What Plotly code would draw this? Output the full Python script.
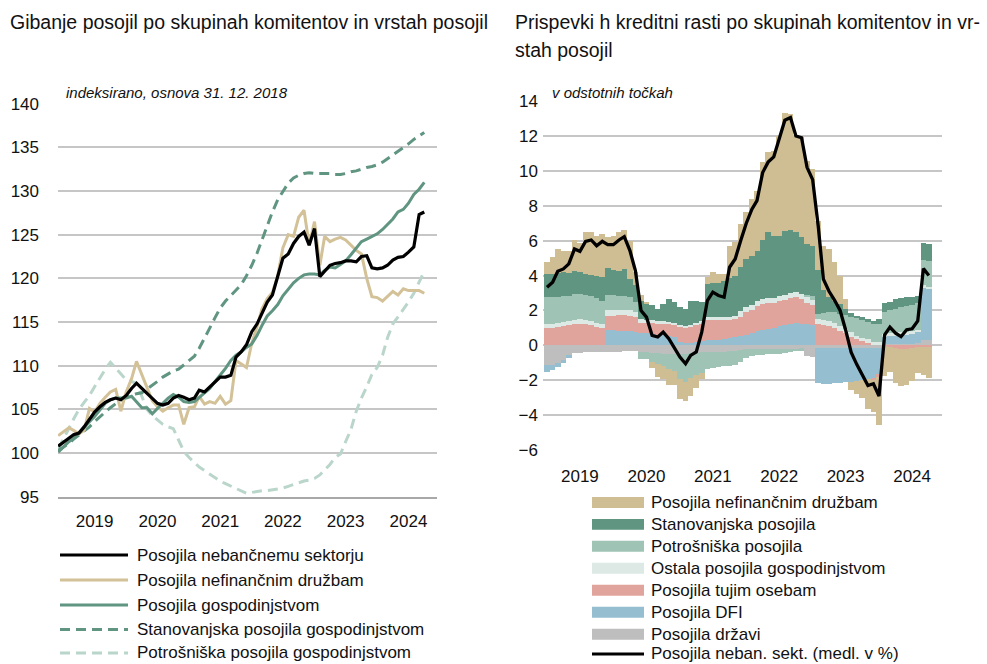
import pandas as pd
import plotly.graph_objects as go

# ---------------- data: left chart (index, 31.12.2018 = 100) ----------------
months_left = pd.date_range("2018-12-01", "2024-10-01", freq="MS")

nebancni = [100.8, 101.3, 101.7, 102.1, 102.3, 103.0, 103.8, 104.7, 105.3, 105.8, 106.1, 106.3,
            106.1, 106.6, 107.4, 108.0, 107.4, 106.8, 106.2, 105.7, 105.5, 105.7, 106.3, 106.6,
            106.4, 106.1, 106.3, 107.2, 107.0, 107.6, 108.2, 108.7, 108.7, 108.9, 111.0, 111.6,
            112.4, 113.9, 114.8, 116.0, 117.3, 118.1, 120.3, 122.3, 122.8, 124.0, 124.8, 125.3,
            123.8, 125.7, 120.2, 120.8, 121.5, 121.7, 121.8, 122.0, 122.0, 121.9, 122.5, 122.6,
            121.2, 121.1, 121.2, 121.5, 122.1, 122.4, 122.5, 123.0, 123.6, 127.3, 127.6]

nefin = [102.0, 102.5, 102.9, 102.6, 102.2, 102.6, 105.1, 104.7, 105.7, 106.4, 107.0, 107.3,
         104.8, 107.0, 108.5, 110.5, 109.0, 107.5, 106.0, 105.3, 104.8, 105.2, 105.5, 105.5,
         103.3, 105.2, 105.3, 106.5, 105.6, 105.9, 105.7, 106.5, 105.6, 106.0, 110.6, 110.2,
         109.8, 112.6, 114.5, 116.5, 117.7, 118.4, 120.3, 123.5, 125.0, 124.8, 127.0, 127.8,
         123.8, 126.5, 121.5, 124.8, 124.2, 124.5, 124.7, 124.4, 123.8, 123.2, 122.8, 120.0,
         117.9, 117.8, 117.4, 117.9, 118.5, 118.1, 118.8, 118.6, 118.6, 118.6, 118.3]

gospod = [100.1, 100.7, 101.3, 101.7, 102.3, 103.0, 103.6, 104.2, 104.9, 105.7, 106.1, 106.3,
          106.3, 106.3, 106.5, 105.9, 105.2, 105.2, 104.5, 105.1, 105.7, 106.3, 106.7, 106.4,
          105.9, 105.8, 105.9, 106.4, 106.9, 107.4, 108.2, 108.9, 109.7, 110.6, 111.2, 111.6,
          112.1, 112.5, 113.5, 114.6, 115.7, 116.3, 117.0, 118.0, 118.8, 119.5, 120.0, 120.4,
          120.5, 120.5, 120.4, 120.9, 121.3, 121.2, 121.6, 122.0, 122.7, 123.5, 124.2, 124.5,
          124.8, 125.1, 125.6, 126.2, 126.8, 127.6, 127.9, 128.6, 129.6, 130.2, 131.0]

stanov = [100.3, 100.7, 101.1, 101.6, 102.1, 102.5, 103.0, 103.6, 104.2, 104.7, 105.2, 105.7,
          106.1, 106.4, 106.6, 106.8, 106.9, 107.3, 107.7, 108.2, 108.7, 109.1, 109.4, 109.6,
          110.1, 110.6, 111.1, 112.0, 113.1, 114.3, 115.5, 116.6, 117.4, 118.0, 118.6, 119.3,
          120.3, 121.5, 122.9, 124.4, 126.0, 127.6, 129.0, 130.0, 130.9, 131.5, 131.8, 132.0,
          132.1, 132.0, 132.0, 132.0, 132.0, 131.9, 131.9, 132.0, 132.2, 132.3, 132.5, 132.7,
          132.8, 133.0, 133.3, 133.7, 134.1, 134.5, 135.0, 135.4, 135.9, 136.3, 136.7]

potros = [100.5, 101.6, 102.8, 103.9, 105.0, 105.8, 106.6, 107.6, 108.6, 109.6, 110.4, 109.7,
          109.0, 108.4, 108.2, 108.0, 106.5, 105.0, 104.3, 103.8, 103.3, 103.0, 102.8, 101.5,
          100.2, 99.5, 98.9, 98.4, 98.0, 97.6, 97.2, 96.8, 96.5, 96.2, 95.9, 95.6,
          95.4, 95.5, 95.6, 95.7, 95.7, 95.8, 95.9, 96.0, 96.2, 96.4, 96.6, 96.8,
          96.9, 97.1, 97.5, 98.1, 98.7, 99.5, 99.9, 101.3, 102.7, 104.8, 106.3, 107.6,
          109.0, 109.8, 111.2, 113.2, 114.8, 115.6, 116.4, 117.3, 118.3, 119.5, 120.8]

# ---------------- data: right chart (contributions, percentage points) ----------------
months_right = pd.date_range("2019-01-01", "2024-10-01", freq="MS")

drzava = [-1.14, -1.1, -1.0, -0.85, -0.6, -0.45, -0.42, -0.4, -0.4, -0.4, -0.4, -0.4,
          -0.38, -0.36, -0.35, -0.33, -0.33, -0.38, -0.4, -0.42, -0.45, -0.48, -0.5, -0.5,
          -0.5, -0.48, -0.45, -0.42, -0.4, -0.4, -0.38, -0.37, -0.36, -0.35, -0.35, -0.25,
          -0.2, -0.2, -0.2, -0.2, -0.2, -0.2, -0.2, -0.2, -0.2, -0.2, -0.2, -0.6,
          -0.65, -0.15, -0.15, -0.15, -0.15, -0.15, -0.15, -0.15, -0.15, -0.15, -0.15, -0.15,
          -0.15, 0.05, 0.05, 0.05, 0.05, 0.05, 0.05, 0.15, 0.28, 0.28]

dfi = [-0.38, -0.3, -0.24, -0.15, -0.1, 0.0, 0.0, 0.0, 0.0, 0.0, 0.0, 0.86,
       0.86, 0.85, 0.85, 0.8, 0.75, 0.7, 0.68, 0.65, 0.6, 0.6, 0.55, 0.5,
       0.2, 0.15, 0.15, 0.2, 0.25, 0.3, 0.3, 0.32, 0.35, 0.4, 0.5, 0.55,
       0.6, 0.7, 0.85, 0.9, 0.95, 1.0, 1.1, 1.15, 1.2, 1.3, 1.25, 1.2,
       1.15, -2.0, -2.05, -2.05, -2.0, -2.0, -1.95, -1.95, -1.9, -1.85, -1.8, -1.75,
       -1.5, 0.45, 0.5, 0.5, 0.55, 0.55, 0.6, 0.6, 3.05, 2.95]

tujci = [1.0, 1.0, 1.05, 1.1, 1.15, 1.2, 1.25, 1.2, 1.15, 1.05, 1.0, 0.85,
         0.85, 0.9, 0.9, 0.9, 0.85, 0.6, 0.6, 0.62, 0.65, 0.65, 0.65, 0.65,
         0.85, 0.85, 0.9, 0.95, 1.0, 1.15, 1.15, 1.13, 1.1, 1.05, 1.0, 1.1,
         1.3, 1.3, 1.4, 1.45, 1.45, 1.4, 1.45, 1.45, 1.5, 1.45, 1.4, 1.25,
         1.15, 1.2, 1.15, 1.1, 1.0, 0.85, 0.7, 0.5, 0.35, 0.25, 0.15, -0.1,
         -0.15, -0.05, -0.1, -0.15, -0.2, -0.2, -0.15, -0.12, -0.12, -0.1]

ostala = [0.25, 0.25, 0.25, 0.25, 0.25, 0.25, 0.25, 0.25, 0.25, 0.25, 0.25, 0.3,
          0.3, 0.3, 0.3, 0.3, 0.3, 0.2, 0.2, 0.18, 0.15, 0.15, 0.12, 0.12,
          0.12, 0.1, 0.12, 0.15, 0.15, 0.2, 0.2, 0.2, 0.2, 0.2, 0.2, 0.3,
          0.3, 0.3, 0.3, 0.3, 0.3, 0.3, 0.3, 0.3, 0.3, 0.3, 0.3, 0.3,
          0.3, 0.3, 0.3, 0.3, 0.3, 0.25, 0.25, 0.25, 0.2, 0.2, 0.2, 0.2,
          0.2, 0.15, 0.15, 0.15, 0.15, 0.15, 0.15, 0.15, 0.1, 0.1]

potrosniska = [1.5, 1.5, 1.45, 1.45, 1.45, 1.5, 1.45, 1.45, 1.4, 1.4, 1.3, 0.85,
               0.85, 0.8, 0.8, 0.75, 0.6, -0.4, -0.4, -0.55, -0.6, -0.7, -0.85, -0.95,
               -1.4, -1.6, -1.4, -1.3, -1.2, -0.95, -0.9, -0.85, -0.85, -0.85, -0.8, -0.7,
               -0.5, -0.4, -0.35, -0.35, -0.3, -0.3, -0.3, -0.25, -0.2, -0.15, -0.1, 0.15,
               0.25, 0.3, 0.4, 0.5, 0.6, 0.7, 0.8, 0.9, 1.0, 1.0, 1.0, 1.0,
               1.05, 1.25, 1.3, 1.4, 1.45, 1.5, 1.5, 1.55, 1.45, 1.5]

stanovanjska = [1.34, 1.35, 1.37, 1.39, 1.3, 1.29, 1.25, 1.2, 1.25, 1.3, 1.35, 1.58,
                1.44, 1.43, 1.55, 1.06, 0.93, 1.07, 0.9, 0.84, 0.7, 0.98, 1.35, 1.21,
                1.04, 1.0, 1.4, 1.27, 1.08, 1.85, 1.9, 1.95, 2.05, 2.2, 2.3, 2.55,
                2.75, 2.84, 2.88, 3.38, 3.77, 3.58, 3.43, 3.63, 3.63, 3.42, 3.24, 2.91,
                2.86, 2.5, 1.35, 0.85, 0.65, 0.55, 0.35, 0.2, 0.15, 0.15, 0.15, 0.2,
                0.25, 0.55, 0.5, 0.55, 0.5, 0.5, 0.45, 0.4, 0.97, 0.97]

nefinancne = [0.67, 0.98, 1.4, 1.24, 1.24, 1.79, 1.66, 2.38, 2.43, 2.29, 2.48, 1.79,
              1.99, 2.2, 2.2, 2.19, 0.76, 0.3, 0.1, -0.3, -0.75, -0.75, -0.9, -0.8,
              -1.2, -1.1, -1.05, -0.75, -0.35, 0.4, 0.64, 0.5, 0.4, 1.86, 1.9, 2.45,
              2.67, 3.24, 3.43, 4.45, 4.58, 4.86, 5.72, 6.8, 6.61, 5.53, 5.81, 4.76,
              4.39, 2.84, 2.5, 2.77, 2.21, 1.65, 0.57, -0.45, -0.75, -1.0, -1.7, -1.8,
              -2.77, -1.7, -1.45, -2.0, -2.1, -2.05, -1.9, -1.45, -1.55, -1.75]

neban_rast = [3.33, 3.62, 4.25, 4.38, 4.67, 5.52, 5.39, 5.96, 6.04, 5.71, 5.96, 5.77,
              5.77, 6.04, 6.23, 5.43, 4.29, 2.0, 1.62, 0.57, 0.48, 0.76, 0.38, -0.1,
              -0.67, -1.05, -0.57, -0.38, 0.76, 2.57, 3.05, 2.86, 2.76, 4.48, 4.95, 6.0,
              7.0, 7.8, 8.3, 9.9, 10.5, 10.8, 11.9, 12.9, 13.05, 12.0, 11.9, 10.2,
              9.5, 6.8, 3.8, 3.1, 2.6, 2.0, 0.9, -0.4, -1.1, -1.7, -2.3, -2.2,
              -2.9, 0.6, 1.05, 0.7, 0.5, 0.9, 0.95, 1.4, 4.4, 4.0]

year_ticks = ["2019", "2020", "2021", "2022", "2023", "2024"]

# ---------------- styling ----------------
W, H = 987, 664
FONT = "Liberation Sans, Arial, Helvetica, sans-serif"
TXT = "#111111"
GRID = "#c6c6c6"

C_TAN = "#cfbd93"
C_DG = "#5f9581"
C_LG = "#9fc3b5"
C_OST = "#dce9e4"
C_TUJ = "#e0a49c"
C_DFI = "#95bfd0"
C_GOV = "#bebebe"
C_LDASH = "#bad6cb"

# vertical calibration of the rendered page (observed offset/scale of the capture)
V_SCALE = 0.972
V_OFF = 8.6


def px(x):
    return x / W


def py(y):
    yp = (y - V_OFF) / V_SCALE
    return 1 - yp / H


fig = go.Figure()

# left chart lines
left_series = [
    ("Potrošniška posojila gospodinjstvom", potros, C_LDASH, "10px,6px", 3),
    ("Stanovanjska posojila gospodinjstvom", stanov, C_DG, "10px,6px", 3),
    ("Posojila nefinančnim družbam", nefin, "#d3c197", "solid", 3),
    ("Posojila gospodinjstvom", gospod, C_DG, "solid", 3),
    ("Posojila nebančnemu sektorju", nebancni, "#000000", "solid", 3.2),
]
for name, vals, col, dash, w in left_series:
    fig.add_trace(go.Scatter(x=months_left, y=vals, name=name, mode="lines",
                             line=dict(color=col, width=w, dash=dash),
                             xaxis="x", yaxis="y", showlegend=False))

# right chart stacked bars (first trace nearest zero)
bar_series = [
    ("Posojila državi", drzava, C_GOV),
    ("Posojila DFI", dfi, C_DFI),
    ("Posojila tujim osebam", tujci, C_TUJ),
    ("Ostala posojila gospodinjstvom", ostala, C_OST),
    ("Potrošniška posojila", potrosniska, C_LG),
    ("Stanovanjska posojila", stanovanjska, C_DG),
    ("Posojila nefinančnim družbam", nefinancne, C_TAN),
]
BAR_W = 31 * 24 * 3600 * 1000
for name, vals, col in bar_series:
    fig.add_trace(go.Bar(x=months_right, y=vals, name=name, marker=dict(color=col, line=dict(width=0)),
                         width=BAR_W, xaxis="x2", yaxis="y2", showlegend=False))

fig.add_trace(go.Scatter(x=months_right, y=neban_rast, name="Posojila neban. sekt. (medl. v %)",
                         mode="lines", line=dict(color="#000000", width=3.3),
                         xaxis="x2", yaxis="y2", showlegend=False))

tickvals = [pd.Timestamp(f"{y}-07-01") for y in year_ticks]

axis_font = dict(family=FONT, size=17, color=TXT)
fig.update_layout(
    width=W, height=H, autosize=False,
    margin=dict(l=0, r=0, t=0, b=0, pad=0),
    paper_bgcolor="white", plot_bgcolor="white",
    barmode="relative", bargap=0,
    font=dict(family=FONT, color=TXT),
    xaxis=dict(domain=[px(58), px(437)], range=["2018-11-30", "2024-12-14"],
               tickvals=tickvals, ticktext=year_ticks, tickfont=axis_font,
               showgrid=False, zeroline=False, showline=True, linecolor="#a8a8a8", linewidth=2,
               ticks="", ticklabelstandoff=8, anchor="y"),
    yaxis=dict(domain=[py(496.7), py(103.3)], range=[95, 140], dtick=5, tick0=95,
               tickfont=axis_font, showgrid=True, gridcolor=GRID, gridwidth=1.5,
               zeroline=False, showline=False, ticks="", ticklabelstandoff=18, anchor="x"),
    xaxis2=dict(domain=[px(543), px(942.3)], range=["2018-12-10", "2024-12-14"],
                tickvals=tickvals, ticktext=year_ticks, tickfont=axis_font,
                showgrid=False, zeroline=False, showline=False,
                ticks="", ticklabelstandoff=14, anchor="y2"),
    yaxis2=dict(domain=[py(450), py(100.7)], range=[-6, 14], dtick=2, tick0=-6,
                tickfont=axis_font, showgrid=True, gridcolor=GRID, gridwidth=1.5,
                zeroline=False, showline=False, ticks="", ticklabelstandoff=4, anchor="x2"),
)

ann = []
shapes = []

# titles
ann.append(dict(text="Gibanje posojil po skupinah komitentov in vrstah posojil", x=px(8), y=py(22),
                xref="paper", yref="paper", xanchor="left", yanchor="middle", showarrow=False,
                font=dict(family=FONT, size=19.5, color=TXT)))
ann.append(dict(text="Prispevki h kreditni rasti po skupinah komitentov in vr-", x=px(513), y=py(22),
                xref="paper", yref="paper", xanchor="left", yanchor="middle", showarrow=False,
                font=dict(family=FONT, size=19.5, color=TXT)))
ann.append(dict(text="stah posojil", x=px(513), y=py(50),
                xref="paper", yref="paper", xanchor="left", yanchor="middle", showarrow=False,
                font=dict(family=FONT, size=19.5, color=TXT)))
# subtitles
ann.append(dict(text="<i>indeksirano, osnova 31. 12. 2018</i>", x=px(64), y=py(92),
                xref="paper", yref="paper", xanchor="left", yanchor="middle", showarrow=False,
                font=dict(family=FONT, size=15, color=TXT)))
ann.append(dict(text="<i>v odstotnih točkah</i>", x=px(550), y=py(92),
                xref="paper", yref="paper", xanchor="left", yanchor="middle", showarrow=False,
                font=dict(family=FONT, size=15, color=TXT)))

# left legend (manual)
left_leg = [
    ("Posojila nebančnemu sektorju", "#000000", "solid", 555),
    ("Posojila nefinančnim družbam", "#d3c197", "solid", 580),
    ("Posojila gospodinjstvom", C_DG, "solid", 605),
    ("Stanovanjska posojila gospodinjstvom", C_DG, "dash", 629.5),
    ("Potrošniška posojila gospodinjstvom", C_LDASH, "dash", 653),
]
for name, col, dash, yy in left_leg:
    shapes.append(dict(type="line", xref="paper", yref="paper", x0=px(60), x1=px(128),
                       y0=py(yy), y1=py(yy), line=dict(color=col, width=3,
                                                       dash="10px,6px" if dash == "dash" else "solid")))
    ann.append(dict(text=name, x=px(135), y=py(yy), xref="paper", yref="paper",
                    xanchor="left", yanchor="middle", showarrow=False,
                    font=dict(family=FONT, size=17, color=TXT)))

# right legend (manual)
right_leg = [
    ("Posojila nefinančnim družbam", C_TAN, 502.3),
    ("Stanovanjska posojila", C_DG, 524.3),
    ("Potrošniška posojila", C_LG, 546.3),
    ("Ostala posojila gospodinjstvom", C_OST, 568.3),
    ("Posojila tujim osebam", C_TUJ, 590.2),
    ("Posojila DFI", C_DFI, 612.3),
    ("Posojila državi", C_GOV, 634.2),
]
for name, col, yy in right_leg:
    shapes.append(dict(type="rect", xref="paper", yref="paper", x0=px(592), x1=px(644),
                       y0=py(yy + 5.5), y1=py(yy - 5.5), fillcolor=col, line=dict(width=0)))
    ann.append(dict(text=name, x=px(649), y=py(yy), xref="paper", yref="paper",
                    xanchor="left", yanchor="middle", showarrow=False,
                    font=dict(family=FONT, size=17, color=TXT)))
shapes.append(dict(type="line", xref="paper", yref="paper", x0=px(592), x1=px(644),
                   y0=py(654), y1=py(654), line=dict(color="#000000", width=3)))
ann.append(dict(text="Posojila neban. sekt. (medl. v %)", x=px(649), y=py(654), xref="paper", yref="paper",
                xanchor="left", yanchor="middle", showarrow=False,
                font=dict(family=FONT, size=17, color=TXT)))

fig.update_layout(annotations=ann, shapes=shapes)

fig.write_html(
    "out.html",
    config={"responsive": False, "displayModeBar": False},
    post_script=(
        "document.body.style.margin='0';document.body.style.padding='0';"
        "document.documentElement.style.overflow='hidden';"
    ),
)
